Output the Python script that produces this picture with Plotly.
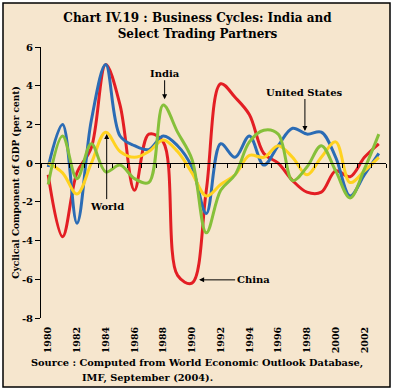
import plotly.graph_objects as go

years = list(range(1980, 2004))
china = [-0.6, -3.8, -0.5, 0.8, 5.1, 3.0, -1.4, 1.5, 1.1, -5.8, -6.2, -1.4,
         4.1, 3.4, 2.5, 0.5, 0.0, -0.9, -1.5, -1.5, -0.4, -0.7, 0.3, 1.0]
us = [-0.2, 2.0, -3.1, 2.2, 5.1, 1.4, 0.9, 0.7, 1.4, 0.9, -0.2, -2.6,
      1.0, 0.3, 1.4, -0.1, 0.9, 1.8, 1.5, 1.6, 0.3, -1.7, -0.6, 0.5]
india = [-1.1, 1.4, -0.8, 1.0, -0.45, -0.1, -0.8, -1.0, 3.0, 1.6, 0.2, -3.6,
         -1.4, -0.6, 1.1, 1.7, 1.5, -0.9, -0.2, 0.9, -0.4, -1.8, -0.3, 1.5]
world = [0.0, -0.5, -1.6, 0.0, 1.6, 0.6, 0.3, 0.6, 1.2, 0.6, -0.5, -1.7,
         -1.1, -0.6, 0.4, 0.3, 0.9, 0.3, -0.6, 0.3, 1.1, -1.0, -0.4, 0.3]

xtick_vals = list(range(1980, 2003, 2))
xtick_text = ["<b>%d</b>" % v for v in xtick_vals]
ytick_vals = list(range(-8, 7, 2))
ytick_text = ["<b>%d</b>" % v for v in ytick_vals]

FONT = "DejaVu Serif"
BG = "#F6E6CE"

series = [
    ("China", china, "#E31E24"),
    ("United States", us, "#2B6CB5"),
    ("World", world, "#FFD21F"),
    ("India", india, "#86C03A"),
]

fig = go.Figure()
for name, vals, col in series:
    fig.add_trace(go.Scatter(x=years, y=vals, name=name, mode="lines",
                             line=dict(color=col, width=3, shape="spline", smoothing=1.0),
                             showlegend=False, hoverinfo="skip"))
# helper trace for the zero-line axis
fig.add_trace(go.Scatter(x=[], y=[], xaxis="x2", yaxis="y", showlegend=False))

fig.update_layout(
    width=395, height=392,
    margin=dict(l=41, r=9, t=47, b=74),
    paper_bgcolor="white",
    plot_bgcolor="rgba(0,0,0,0)",
    font=dict(family=FONT, color="black"),
    title=dict(text="<b>Chart IV.19 : Business Cycles: India and<br>Select Trading Partners</b>",
               x=0.5, xref="container", xanchor="center",
               y=1 - 22 / 392, yanchor="middle", yref="container",
               font=dict(family=FONT, size=12, color="black")),
    xaxis=dict(range=[1979.5, 2003.5], tickvals=xtick_vals, ticktext=xtick_text,
               tickangle=-90, ticks="outside", ticklen=4, tickcolor="rgba(0,0,0,0)",
               showline=False, showgrid=False, zeroline=False, automargin=False,
               tickfont=dict(family=FONT, size=9.5, color="black"), fixedrange=True),
    xaxis2=dict(range=[1979.5, 2003.5], overlaying="x", anchor="free", position=8 / 14,
                side="bottom", showline=True, linecolor="black", linewidth=1,
                ticks="outside", ticklen=4, tickcolor="black", tickwidth=1,
                tick0=1979.5, dtick=1, showticklabels=False, showgrid=False,
                zeroline=False, automargin=False),
    yaxis=dict(range=[-8, 6], tickvals=ytick_vals, ticktext=ytick_text,
               showline=True, linecolor="black", linewidth=1,
               ticks="outside", ticklen=5, tickcolor="black",
               showgrid=False, zeroline=False, automargin=False,
               tickfont=dict(family=FONT, size=10, color="black"),
               title=dict(text="<b>Cyclical Component of GDP (per cent)</b>", standoff=0,
                          font=dict(family=FONT, size=9, color="black"))),
    shapes=[dict(type="rect", xref="paper", yref="paper",
                 x0=(3 - 41) / 345, x1=(390 - 41) / 345,
                 y0=(318 - 387) / 271, y1=(318 - 3) / 271,
                 fillcolor=BG, line=dict(color="black", width=1.5), layer="below")],
)

ann_font = dict(family=FONT, size=10, color="black")
arrow = dict(showarrow=True, arrowhead=2, arrowsize=1, arrowwidth=1, arrowcolor="black")
fig.add_annotation(x=1988.1, y=3.3, text="<b>India</b>", ax=0, ay=-26, font=ann_font, **arrow)
fig.add_annotation(x=1984.07, y=1.5, text="<b>World</b>", ax=0, ay=72, font=ann_font, **arrow)
fig.add_annotation(x=1997.86, y=1.66, text="<b>United States</b>", ax=0, ay=-39, font=ann_font, **arrow)
fig.add_annotation(x=1990.5, y=-6.03, text="<b>China</b>", ax=54, ay=0, font=ann_font, **arrow)

src_font = dict(family=FONT, size=9.8, color="black")
fig.add_annotation(xref="paper", yref="paper", x=(29 - 41) / 345, y=(318 - 363) / 271,
                   xanchor="left", yanchor="middle", showarrow=False,
                   text="<b>Source : Computed from World Economic Outlook Database,</b>",
                   font=src_font)
fig.add_annotation(xref="paper", yref="paper", x=(80 - 41) / 345, y=(318 - 378) / 271,
                   xanchor="left", yanchor="middle", showarrow=False,
                   text="<b>IMF, September (2004).</b>",
                   font=src_font)

fig.write_html("out.html", config={"displayModeBar": False},
               post_script="document.body.style.margin='0';")
